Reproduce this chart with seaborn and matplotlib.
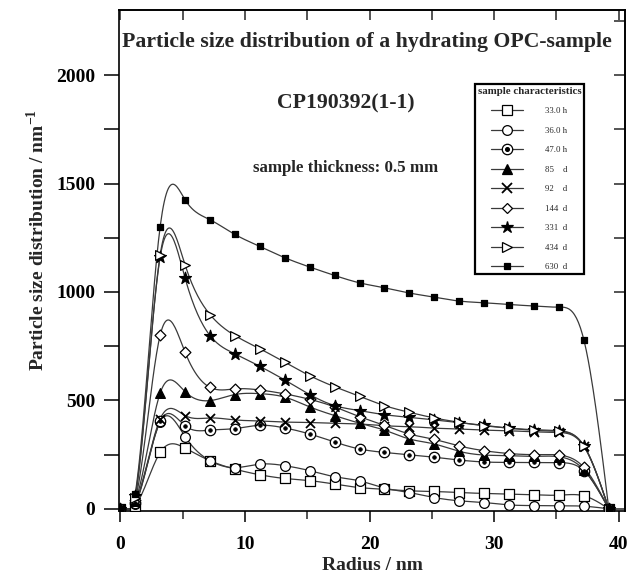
import numpy as np
import pandas as pd
import matplotlib
matplotlib.use("Agg")
import matplotlib.pyplot as plt
from matplotlib.lines import Line2D
from matplotlib.ticker import FixedLocator
import seaborn as sns

# ---------------- data ----------------
radius = [0, 1.2, 3.2, 5.2, 7.2, 9.2, 11.2, 13.2, 15.2, 17.2, 19.2, 21.2,
          23.2, 25.2, 27.2, 29.2, 31.2, 33.2, 35.2, 37.2, 39.2]

s33h = [0, 15, 260, 280, 222, 183, 157, 140, 130, 114, 98, 90, 83, 80, 75, 71, 68, 65, 63, 60, 0]
s36h = [0, 20, 400, 333, 222, 190, 206, 199, 176, 148, 129, 96, 75, 52, 37, 29, 18, 15, 14, 12, 0]
s47h = [0, 25, 403, 383, 363, 370, 385, 373, 345, 308, 276, 260, 249, 238, 225, 216, 214, 214, 213, 176, 0]
s85d = [0, 35, 533, 540, 499, 527, 531, 515, 470, 430, 395, 363, 322, 299, 265, 248, 245, 242, 240, 180, 0]
s92d = [0, 30, 414, 430, 419, 410, 405, 400, 398, 394, 391, 383, 379, 372, 368, 363, 360, 355, 352, 288, 0]
s144d = [0, 40, 800, 722, 560, 553, 548, 530, 505, 470, 425, 385, 345, 320, 290, 268, 255, 250, 248, 191, 0]
s331d = [0, 60, 1160, 1064, 799, 715, 657, 594, 527, 476, 453, 434, 422, 410, 398, 385, 372, 365, 360, 291, 0]
s434d = [0, 50, 1170, 1125, 896, 799, 738, 676, 614, 563, 519, 476, 445, 419, 399, 383, 372, 362, 357, 291, 0]
s630d = [0, 70, 1300, 1425, 1333, 1265, 1210, 1158, 1115, 1076, 1042, 1019, 995, 976, 958, 950, 942, 935, 930, 779, 0]

sample_labels = ["33.0 h", "36.0 h", "47.0 h", "85    d", "92    d", "144  d", "331  d", "434  d", "630  d"]
series = [s33h, s36h, s47h, s85d, s92d, s144d, s331d, s434d, s630d]

x_ticks = [0, 10, 20, 30, 40]
y_ticks = [0, 500, 1000, 1500, 2000]

title_lines = ["Particle size distribution of a hydrating OPC-sample",
               "CP190392(1-1)", "sample thickness: 0.5 mm"]

# ---------------- styles ----------------
# (marker, size, filled, extra inner marker)
marker_styles = [
    ("s", 7, False, None),
    ("o", 7, False, None),
    ("o", 7.5, False, "."),
    ("^", 7, True, None),
    ("x", 6.5, True, None),
    ("D", 5.5, False, None),
    ("*", 9, True, None),
    (">", 7, False, None),
    ("s", 5, True, None),
]

sns.set_theme(style="white")
plt.rcParams["font.family"] = ["Liberation Serif", "DejaVu Serif"]
plt.rcParams["mathtext.fontset"] = "custom"
plt.rcParams["mathtext.rm"] = "Liberation Serif"
plt.rcParams["mathtext.bf"] = "Liberation Serif:bold"


def natural_spline(x, y, xs):
    x = np.asarray(x, float)
    y = np.asarray(y, float)
    n = len(x)
    h = np.diff(x)
    A = np.zeros((n, n))
    b = np.zeros(n)
    A[0, 0] = 1
    A[-1, -1] = 1
    for i in range(1, n - 1):
        A[i, i - 1] = h[i - 1]
        A[i, i] = 2 * (h[i - 1] + h[i])
        A[i, i + 1] = h[i]
        b[i] = 3 * ((y[i + 1] - y[i]) / h[i] - (y[i] - y[i - 1]) / h[i - 1])
    c = np.linalg.solve(A, b)
    bc = (y[1:] - y[:-1]) / h - h * (2 * c[:-1] + c[1:]) / 3
    d = (c[1:] - c[:-1]) / (3 * h)
    idx = np.clip(np.searchsorted(x, xs) - 1, 0, n - 2)
    dx = xs - x[idx]
    return y[idx] + bc[idx] * dx + c[idx] * dx ** 2 + d[idx] * dx ** 3


fig = plt.figure(figsize=(6.3, 5.75), dpi=100)
L, R, B, T = 119, 625, 511, 10
ax = fig.add_axes([L / 630, 1 - B / 575, (R - L) / 630, (B - T) / 575])
ax.set_facecolor("white")

line_color = "#3a3a3a"
handles = []
for vals, lab, (m, ms, filled, inner) in zip(series, sample_labels, marker_styles):
    xs = np.linspace(radius[0], radius[-1], 500)
    ys = np.maximum(natural_spline(radius, vals, xs), 0)
    sns.lineplot(x=xs, y=ys, color=line_color, linewidth=0.9, ax=ax,
                 legend=False, sort=False, estimator=None, zorder=2)
    face = "black" if filled else "white"
    if m == "x":
        sns.scatterplot(x=radius, y=vals, marker="x", s=ms ** 2, color="black",
                        linewidth=1.3, ax=ax, legend=False, zorder=3)
        h = Line2D([], [], color=line_color, lw=0.9, marker="x", ms=ms,
                   mec="black", mew=1.3)
    else:
        sns.scatterplot(x=radius, y=vals, marker=m, s=ms ** 2, color=face,
                        edgecolor="black", linewidth=0.9, ax=ax, legend=False, zorder=3)
        h = Line2D([], [], color=line_color, lw=0.9, marker=m, ms=ms,
                   mfc=face, mec="black", mew=0.9)
    if inner is not None:
        sns.scatterplot(x=radius, y=vals, marker="o", s=(ms * 0.35) ** 2, color="black",
                        edgecolor="black", linewidth=0.5, ax=ax, legend=False, zorder=4)
        h2 = Line2D([], [], ls="none", marker="o", ms=ms * 0.35, mfc="black", mec="black")
        h = (h, h2)
    handles.append(h)

ax.set_xlim(-0.1, 40.5)
ax.set_ylim(-10, 2300)

ax.xaxis.set_major_locator(FixedLocator(x_ticks))
ax.xaxis.set_minor_locator(FixedLocator([5, 15, 25, 35]))
ax.yaxis.set_major_locator(FixedLocator(y_ticks))
ax.yaxis.set_minor_locator(FixedLocator([250, 750, 1250, 1750]))
ax.set_xticklabels([str(v) for v in x_ticks], fontsize=14, fontweight="bold")
ax.set_yticklabels([str(v) for v in y_ticks], fontsize=14, fontweight="bold")

ax.tick_params(axis="x", which="major", direction="out", length=8, width=1.1,
               bottom=True, top=False, pad=10, colors="black")
ax.tick_params(axis="x", which="minor", direction="out", length=6, width=1.1,
               bottom=True, top=False)
ax.tick_params(axis="y", which="both", direction="out", length=11, width=1.1,
               left=True, right=False, pad=6, colors="black")

secx = ax.secondary_xaxis("top")
secx.xaxis.set_major_locator(FixedLocator([0, 5, 10, 15, 20, 25, 30, 35, 40]))
secx.tick_params(axis="x", direction="in", length=7, width=1.1, labeltop=False)
secy = ax.secondary_yaxis("right")
secy.yaxis.set_major_locator(FixedLocator([0, 250, 500, 750, 1000, 1250, 1500, 1750, 2000, 2250]))
secy.tick_params(axis="y", direction="in", length=8, width=1.1, labelright=False)

for sp in list(ax.spines.values()) + list(secx.spines.values()) + list(secy.spines.values()):
    sp.set_color("black")
    sp.set_linewidth(1.2)

ax.set_xlabel("Radius / nm", fontsize=14, fontweight="bold", labelpad=3)
ax.set_ylabel(r"Particle size distribution / nm$^{\mathbf{-1}}$", fontsize=14,
              fontweight="bold")
ax.yaxis.set_label_coords(-0.14, 0.54)

ax.text(0.49, 0.936, title_lines[0], transform=ax.transAxes, ha="center", va="center",
        fontsize=15.7, fontweight="bold")
ax.text(0.449, 0.814, title_lines[1], transform=ax.transAxes, ha="center", va="center",
        fontsize=15.7, fontweight="bold")
ax.text(0.447, 0.685, title_lines[2], transform=ax.transAxes, ha="center", va="center",
        fontsize=12.2, fontweight="bold")

leg = ax.legend(handles, sample_labels, loc="upper left",
                bbox_to_anchor=(0.7036, 0.852), borderaxespad=0,
                fontsize=6.3, title="sample characteristics",
                title_fontproperties={"size": 7.8, "weight": "bold"},
                handlelength=3.6, handletextpad=2.6, labelspacing=1.3,
                borderpad=0.3, frameon=True, fancybox=False, framealpha=1)
leg.get_frame().set_edgecolor("black")
leg.get_frame().set_linewidth(1.6)
leg.set_zorder(10)

fig.savefig("out.png", dpi=100, facecolor="white")
